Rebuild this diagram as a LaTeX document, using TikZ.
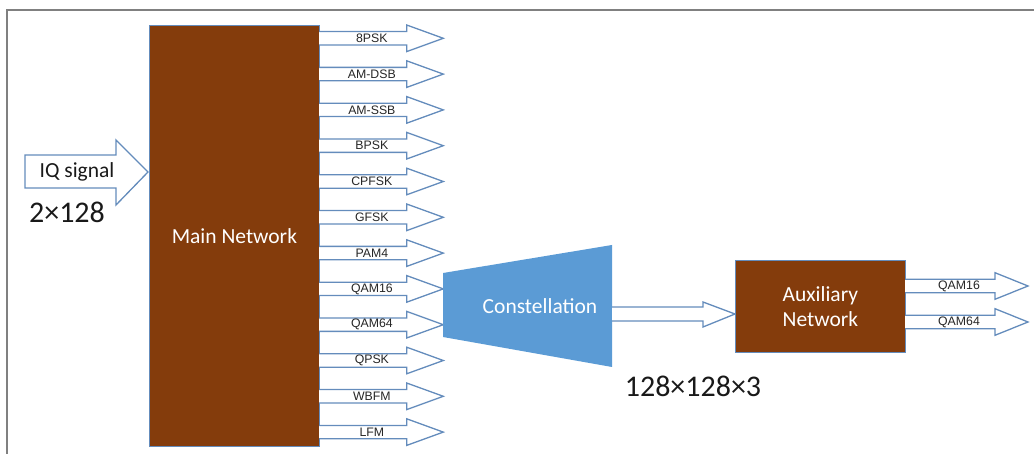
\documentclass[tikz,border=0pt]{standalone}
\usepackage{fontspec}
\setmainfont{Carlito}
\newfontfamily\arialf{Liberation Sans}
\usetikzlibrary{calc}
\definecolor{brownbox}{RGB}{132,60,12}
\definecolor{arrowline}{RGB}{100,140,188}
\definecolor{constblue}{RGB}{91,155,213}
\definecolor{framegray}{RGB}{128,128,128}
\newcommand\blockarrow[6]{% name, x0, y, xhead, xtip, label
  \draw[blk] (#2,#3-6.7) -- (#4,#3-6.7) -- (#4,#3-13.3) -- (#5,#3) -- (#4,#3+13.3) -- (#4,#3+6.7) -- (#2,#3+6.7);
  \node[lbl] (#1) at ({(#2+#4)/2+9},#3) {#6};}
\begin{document}
\begin{tikzpicture}[x=1pt,y=-1pt,
  netbox/.style={fill=brownbox, draw=arrowline, line width=0.8pt, text=white,
    font=\fontsize{21.5}{25}\selectfont, align=center, inner sep=0},
  lbl/.style={font=\arialf\fontsize{12.3}{12}\selectfont, text=black!85, inner sep=0},
  blk/.style={draw=arrowline, line width=1.3pt, fill=white, line join=miter},
  bigtxt/.style={font=\fontsize{30}{32}\selectfont, text=black!90, inner sep=0}]
\useasboundingbox (0,0) rectangle (1034,454);
\draw[framegray, line width=1.5pt] (7,454) -- (7,10) -- (1034,10);

% main network
\node[netbox, minimum width=170, minimum height=421, anchor=north west] (main) at (149,25) {Main Network};

% IQ input arrow
\draw[blk] (25,155) -- (116,155) -- (116,140) -- (148,172) -- (116,205) -- (116,188) -- (25,188) -- cycle;
\node[font=\fontsize{21.5}{25}\selectfont, text=black!90, inner sep=0] (iq) at (77,172) {IQ signal};
\node[bigtxt] (dim1) at (67,212) {2×128};

% outputs of main network
\foreach \lab [count=\i from 0] in {8PSK,AM-DSB,AM-SSB,BPSK,CPFSK,GFSK,PAM4,QAM16,QAM64,QPSK,WBFM,LFM}{
  \pgfmathsetmacro\yy{38.3+35.8*\i}
  \blockarrow{out\i}{319}{\yy}{406.7}{443.3}{\lab}
}

% constellation
\fill[constblue] (443,273) -- (612,245) -- (612,367) -- (443,337) -- cycle;
\node[font=\fontsize{21.5}{25}\selectfont, text=white, inner sep=0] (const) at (540,306) {Constellation};

% arrow to auxiliary
\draw[blk] (612,307) -- (703,307) -- (703,302) -- (735,314) -- (703,327) -- (703,321) -- (612,321);
\node[bigtxt] (dim2) at (693,386) {128×128×3};

% auxiliary network
\node[netbox, minimum width=170, minimum height=92, anchor=north west] (aux) at (735,260) {Auxiliary\\Network};

\blockarrow{aux1}{905}{286}{995}{1028}{QAM16}
\blockarrow{aux2}{905}{322}{995}{1028}{QAM64}
\end{tikzpicture}
\end{document}
